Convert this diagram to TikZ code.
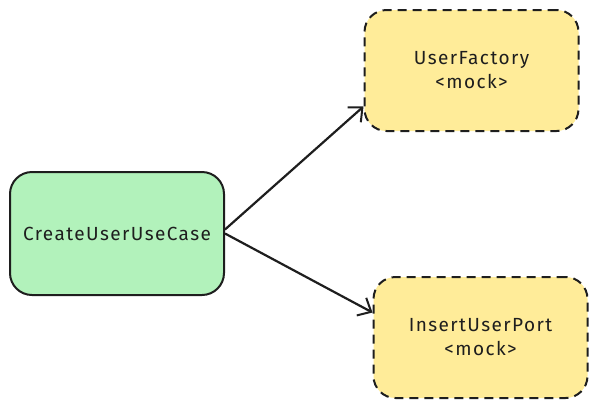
\documentclass[tikz,border=0pt]{standalone}
\usepackage{fontspec}
\setmainfont{Fira Sans}[LetterSpace=7.5]
\usetikzlibrary{arrows.meta,positioning}

\definecolor{usegreen}{HTML}{B2F2BB}
\definecolor{mockyellow}{HTML}{FFEC99}
\definecolor{inkline}{HTML}{1E1E1E}

\begin{document}
\begin{tikzpicture}[
    x=1pt, y=-1pt,
    font=\fontsize{19pt}{24pt}\selectfont,
    box/.style={rectangle, draw=inkline, line width=2pt, rounded corners=22pt, text centered, align=center, text=inkline},
    usecase/.style={box, fill=usegreen, minimum width=214pt, minimum height=123pt},
    mock/.style={box, fill=mockyellow, dashed, dash pattern=on 9pt off 6pt, minimum width=214pt, minimum height=121pt},
    arrow/.style={-{Straight Barb[length=11pt,width=20pt,line width=2pt]}, line width=2.2pt, draw=inkline}
]
\useasboundingbox (0,0) rectangle (597,408);

% Use case under test
\node[usecase] (create-user) at (117,233.5) {CreateUserUseCase};

% Mocked collaborators
\node[mock] (user-factory) at (471.5,70.5) {UserFactory\\<mock>};
\node[mock] (insert-port) at (480.5,337.5) {InsertUserPort\\<mock>};

% Connections
\draw[arrow] ([yshift=4pt]create-user.east) -- ([yshift=-36pt]user-factory.west);
\draw[arrow] (create-user.east) -- ([yshift=25pt]insert-port.west);

\end{tikzpicture}
\end{document}
